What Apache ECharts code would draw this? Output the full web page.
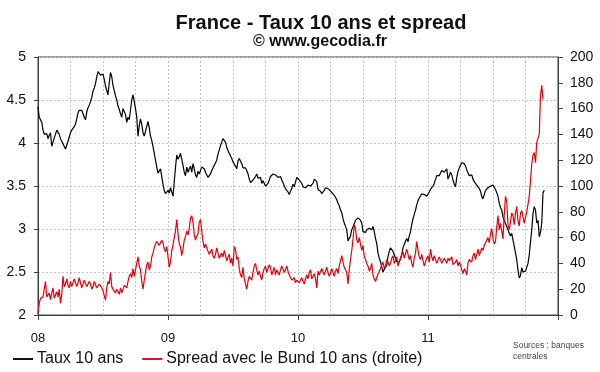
<!DOCTYPE html>
<html><head><meta charset="utf-8">
<script src="https://cdn.jsdelivr.net/npm/echarts@6/dist/echarts.min.js"></script>
<style>html,body{margin:0;padding:0;background:#fff}#c{width:600px;height:372px}</style>
</head><body><div id="c"></div>
<script>
const titleText = 'France - Taux 10 ans et spread';
const subtitleText = '© www.gecodia.fr';
const sourceText = 'Sources : banques\ncentrales';
const seriesNames = ['Taux 10 ans', 'Spread avec le Bund 10 ans (droite)'];
const yearTicks = [2008, 2009, 2010, 2011, 2012];
const yearLabels = ['08', '09', '10', '11', ''];
// half-weekly observations starting on 1 Jan 2008
const startYear = 2008;
const stepInYears = 3.5 / 364;
// French 10-year yield, % (left axis)
const taux = [4.42,4.30, 4.27,4.24, 4.15,4.10, 4.08,4.11, 4.05,4.09, 4.12,3.96, 3.98,4.06, 4.10,4.15, 4.17,4.10, 4.05,4.03,
3.99,3.96, 3.93,3.95, 4.02,4.07, 4.12,4.15, 4.17,4.19, 4.22,4.28, 4.35,4.38, 4.40,4.38, 4.34,4.30, 4.27,4.36,
4.41,4.44, 4.48,4.53, 4.60,4.64, 4.69,4.77, 4.83,4.82, 4.79,4.77, 4.80,4.74, 4.66,4.61, 4.56,4.70, 4.82,4.77,
4.67,4.61, 4.55,4.50, 4.43,4.39, 4.34,4.30, 4.40,4.38, 4.33,4.24, 4.30,4.27, 4.28,4.50, 4.56,4.48, 4.40,4.30,
4.08,4.20, 4.28,4.22, 4.12,4.08, 4.07,4.19, 4.25,4.18, 4.08,4.03, 3.96,3.88, 3.80,3.72, 3.65,3.66, 3.70,3.72,
3.52,3.45, 3.41,3.40, 3.45,3.42, 3.48,3.49, 3.38,3.55, 3.72,3.86, 3.81,3.84, 3.88,3.86, 3.74,3.66, 3.62,3.72,
3.66,3.70, 3.73,3.66, 3.76,3.70, 3.63,3.60, 3.67,3.64, 3.68,3.72, 3.74,3.70, 3.66,3.64, 3.60,3.61, 3.64,3.68,
3.71,3.74, 3.77,3.80, 3.87,3.92, 3.97,4.01, 4.05,4.04, 4.01,3.95, 3.91,3.88, 3.85,3.82, 3.78,3.76, 3.73,3.70,
3.79,3.82, 3.83,3.76, 3.71,3.72, 3.71,3.68, 3.64,3.58, 3.54,3.53, 3.57,3.59, 3.61,3.64, 3.59,3.61, 3.60,3.53,
3.56,3.54, 3.50,3.49, 3.53,3.57, 3.61,3.62, 3.64,3.63, 3.63,3.64, 3.60,3.62, 3.61,3.57, 3.54,3.50, 3.47,3.45,
3.43,3.40, 3.44,3.47, 3.52,3.49, 3.50,3.60, 3.58,3.57, 3.55,3.53, 3.49,3.51, 3.48,3.49, 3.51,3.53, 3.50,3.52,
3.53,3.58, 3.57,3.55, 3.46,3.45, 3.44,3.41, 3.42,3.45, 3.48,3.49, 3.47,3.45, 3.44,3.43, 3.41,3.39, 3.37,3.34,
3.30,3.27, 3.22,3.19, 3.12,3.07, 3.03,2.99, 2.86,2.88, 2.92,2.99, 3.01,3.06, 3.10,3.11, 3.13,3.12, 3.10,3.07,
2.97,2.95, 2.96,2.99, 3.00,3.01, 3.01,2.99, 3.03,2.97, 2.89,2.83, 2.72,2.66, 2.62,2.56, 2.50,2.53, 2.55,2.58,
2.68,2.74, 2.78,2.80, 2.74,2.70, 2.66,2.62, 2.60,2.62, 2.65,2.70, 2.78,2.82, 2.86,2.89, 2.85,2.92, 2.97,3.05,
3.12,3.17, 3.22,3.28, 3.33,3.36, 3.38,3.41, 3.41,3.40, 3.41,3.38, 3.40,3.43, 3.46,3.48, 3.50,3.53, 3.55,3.62,
3.61,3.62, 3.65,3.68, 3.69,3.66, 3.64,3.70, 3.58,3.62, 3.66,3.63, 3.57,3.52, 3.49,3.60, 3.67,3.71, 3.74,3.77,
3.77,3.76, 3.73,3.69, 3.65,3.62, 3.61,3.63, 3.58,3.55, 3.53,3.51, 3.49,3.47, 3.44,3.38, 3.35,3.40, 3.45,3.47,
3.48,3.49, 3.50,3.52, 3.51,3.49, 3.46,3.42, 3.38,3.30, 3.25,3.22, 3.14,3.10, 3.08,3.03, 2.99,2.95, 2.92,2.95,
2.87,2.80, 2.72,2.64, 2.52,2.43, 2.46,2.55, 2.50,2.48, 2.51,2.52, 2.60,2.70, 2.85,2.99, 3.18,3.26, 3.22,3.07,
3.10,2.91, 2.96,3.07, 3.42,3.45];
// spread vs Bund 10 ans, bp (right axis)
const spread = [1.3,9, 12.9,13, 14,20, 26,14, 15,17, 12,17, 21,13, 14,18, 14,20, 9,16,
30,22, 24,28, 23,21, 26,22, 21,28, 27,22, 25,29, 25,21, 21,27, 26,22,
22,26, 24,20, 22,26, 27,21, 20,24, 25,21, 19,15, 11.6,21, 26,24, 33,22,
20,19, 17,20, 18,16, 21,17, 18,23, 24,21, 26,30, 32,29, 36,30, 31,40,
45,38, 35,26, 20,27, 33,39, 41,35, 38,45, 48,52, 55,57, 58,54, 55,58,
56,51, 49,53, 45,37, 41,50, 54,60, 65,74, 63,55, 53,46, 51,58, 61,65,
62,67, 75,77, 72,62, 58,61, 63,72, 74,65, 57,52, 55,52, 53,47, 48,51,
46,44, 47,52, 51,44, 46,48, 45,50, 46,42, 45,47, 40,44, 38,53, 51,43,
45,36, 31,29, 37,28, 24,20, 26,30, 31,27, 33,38, 40,35, 31,34, 30,27,
33,36, 38,33, 34,39, 37,31, 34,37, 31,35, 36,31, 35,38, 37,33, 35,38,
34,31, 29,27, 26,29, 25,27, 28,25, 26,29, 26,24, 28,31, 28,33, 35,28,
30,32, 28,21, 34,31, 32,36, 35,31, 34,37, 33,30, 32,36, 35,30, 34,36,
32,38, 42,46, 41,37, 36,33, 24,35, 43,50, 58,70, 67,58, 56,60, 55,50,
54,46, 43,40, 38,34, 36,40, 31,28, 26,29, 30,34, 36,39, 41,36, 38,43,
41,38, 40,44, 46,40, 42,45, 38,41, 42,47, 49,44, 43,51, 52,43, 46,40,
37,44, 48,57, 50,45, 43,47, 42,38, 41,44, 46,41, 51,45, 42,46, 43,40,
41,45, 43,40, 39,44, 42,40, 44,42, 41,45, 39,38, 41,43, 38,41, 39,35,
32,36, 34,31, 40,43, 44,41, 46,48, 43,47, 51,46, 47,52, 50,54, 55,58,
60,56, 63,67, 59,55, 57,68, 77,66, 71,65, 59,78, 92,88, 70,66, 72,79,
77,70, 79,84, 73,69, 79,81, 76,71, 72,80, 86,92, 104,117, 124,126, 118,134,
135,140, 170,178, 167];

const FONT = '"Liberation Sans", Arial, sans-serif';
const gridLine = { type: [2, 2], color: '#c4c4c4', width: 1 };
const axisCol = '#404040';

const chart = echarts.init(document.getElementById('c'), null, { renderer: 'canvas' });
chart.setOption({
  animation: false,
  backgroundColor: '#fff',
  textStyle: { fontFamily: FONT },
  grid: { left: 38, right: 42, top: 57, bottom: 57, show: true, borderColor: axisCol, borderWidth: 1, backgroundColor: 'transparent' },
  legend: {
    left: 13, top: 351, padding: 0, itemGap: 19, itemWidth: 20, itemHeight: 2, icon: 'rect',
    textStyle: { fontSize: 16, color: '#111', fontFamily: FONT, padding: [0, 0, 0, -1] },
    data: seriesNames
  },
  xAxis: {
    type: 'value', min: yearTicks[0], max: yearTicks[yearTicks.length - 1], interval: 1,
    axisLine: { show: true, lineStyle: { color: axisCol } },
    axisTick: { show: true, length: 5, lineStyle: { color: axisCol } },
    minorTick: { show: false, splitNumber: 4 },
    minorSplitLine: { show: true, lineStyle: gridLine },
    splitLine: { show: true, lineStyle: gridLine },
    axisLabel: { margin: 17, fontSize: 13, color: '#111', fontFamily: FONT,
      formatter: v => yearLabels[yearTicks.indexOf(Math.round(v))] || '' }
  },
  yAxis: [{
    type: 'value', min: 2, max: 5, interval: 0.5, position: 'left',
    axisLine: { show: true, lineStyle: { color: axisCol } },
    axisTick: { show: true, length: 4, lineStyle: { color: axisCol } },
    splitLine: { show: true, lineStyle: gridLine },
    axisLabel: { margin: 12, fontSize: 14, color: '#111', fontFamily: FONT }
  }, {
    type: 'value', min: 0, max: 200, interval: 20, position: 'right',
    axisLine: { show: true, lineStyle: { color: axisCol } },
    axisTick: { show: true, length: 5, lineStyle: { color: axisCol } },
    splitLine: { show: false },
    axisLabel: { margin: 12, fontSize: 14, color: '#111', fontFamily: FONT }
  }],
  series: [{
    name: seriesNames[0], type: 'line', yAxisIndex: 0, showSymbol: false, symbol: 'none',
    color: '#111', lineStyle: { width: 1.2, color: '#000' },
    data: taux.map((v, i) => [startYear + i * stepInYears, v])
  }, {
    name: seriesNames[1], type: 'line', yAxisIndex: 1, showSymbol: false, symbol: 'none',
    color: '#e0141e', lineStyle: { width: 1.2, color: '#e8000b' },
    data: spread.map((v, i) => [startYear + i * stepInYears, v])
  }],
  graphic: [
    { type: 'text', x: 321, y: 13, style: { text: titleText, font: 'bold 20px ' + FONT, fill: '#111', textAlign: 'center', textVerticalAlign: 'top' } },
    { type: 'text', x: 320, y: 34, style: { text: subtitleText, font: 'bold 16px ' + FONT, fill: '#111', textAlign: 'center', textVerticalAlign: 'top' } },
    { type: 'text', x: 513, y: 340, style: { text: sourceText, font: '8.5px ' + FONT, fill: '#444', lineHeight: 11, textVerticalAlign: 'top' } }
  ]
});
</script></body></html>
